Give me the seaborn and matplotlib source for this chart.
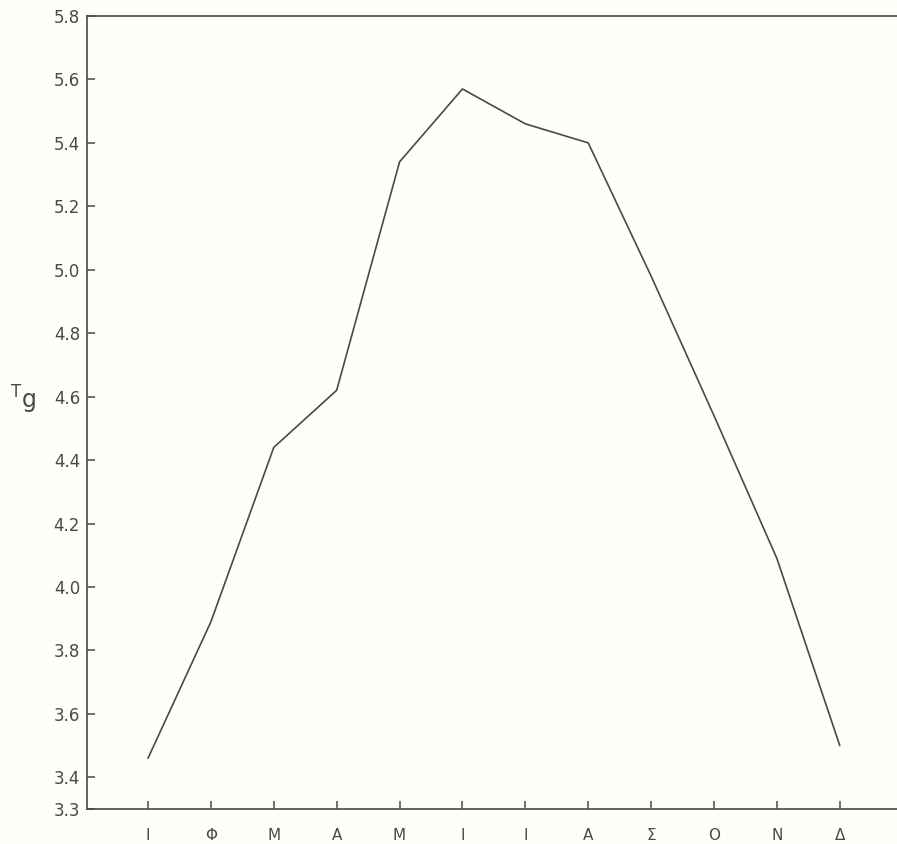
import matplotlib
matplotlib.use("Agg")
import matplotlib.pyplot as plt
import seaborn as sns

# Monthly values (Greek month initials)
months = ["Ι", "Φ", "Μ", "Α", "Μ", "Ι", "Ι", "Α", "Σ", "Ο", "Ν", "Δ"]
month_pos = list(range(1, 13))
tg_values = [3.46, 3.89, 4.44, 4.62, 5.34, 5.57, 5.46, 5.40, 4.98, 4.54, 4.09, 3.50]
y_ticks = [3.3, 3.4, 3.6, 3.8, 4.0, 4.2, 4.4, 4.6, 4.8, 5.0, 5.2, 5.4, 5.6, 5.8]

sns.set_style("white")
plt.rcParams["font.family"] = ["DejaVu Sans"]

bg = "#fffef8"
ink = "#4a4a42"

fig = plt.figure(figsize=(8.97, 8.44), dpi=100, facecolor=bg)
ax = fig.add_axes([87 / 897, 1 - 809 / 844, 1 - 87 / 897, 793 / 844])
ax.set_facecolor(bg)

sns.lineplot(x=month_pos, y=tg_values, ax=ax, color=ink, linewidth=1.2)

ax.set_xlim(0.03, 12.91)
ax.set_ylim(3.3, 5.8)
ax.set_xticks(month_pos)
ax.set_xticklabels(months)
ax.set_yticks(y_ticks)
ax.set_yticklabels([f"{v:.1f}" for v in y_ticks])

ax.tick_params(axis="both", direction="in", length=6, width=1.1, color=ink,
               labelcolor=ink, labelsize=12, bottom=True, left=True)
ax.tick_params(axis="x", pad=14, labelsize=11)
ax.tick_params(axis="y", pad=5)

for side in ["left", "bottom", "top"]:
    ax.spines[side].set_color(ink)
    ax.spines[side].set_linewidth(1.2)
ax.spines["right"].set_visible(False)

# T_g label, horizontal, left of the axis
fig.text(10 / 897, 1 - 400 / 844, r"$^{\mathsf{T}}\mathsf{g}$", fontsize=17,
         color=ink, ha="left", va="center")

fig.savefig("out.png", dpi=100, facecolor=bg)
